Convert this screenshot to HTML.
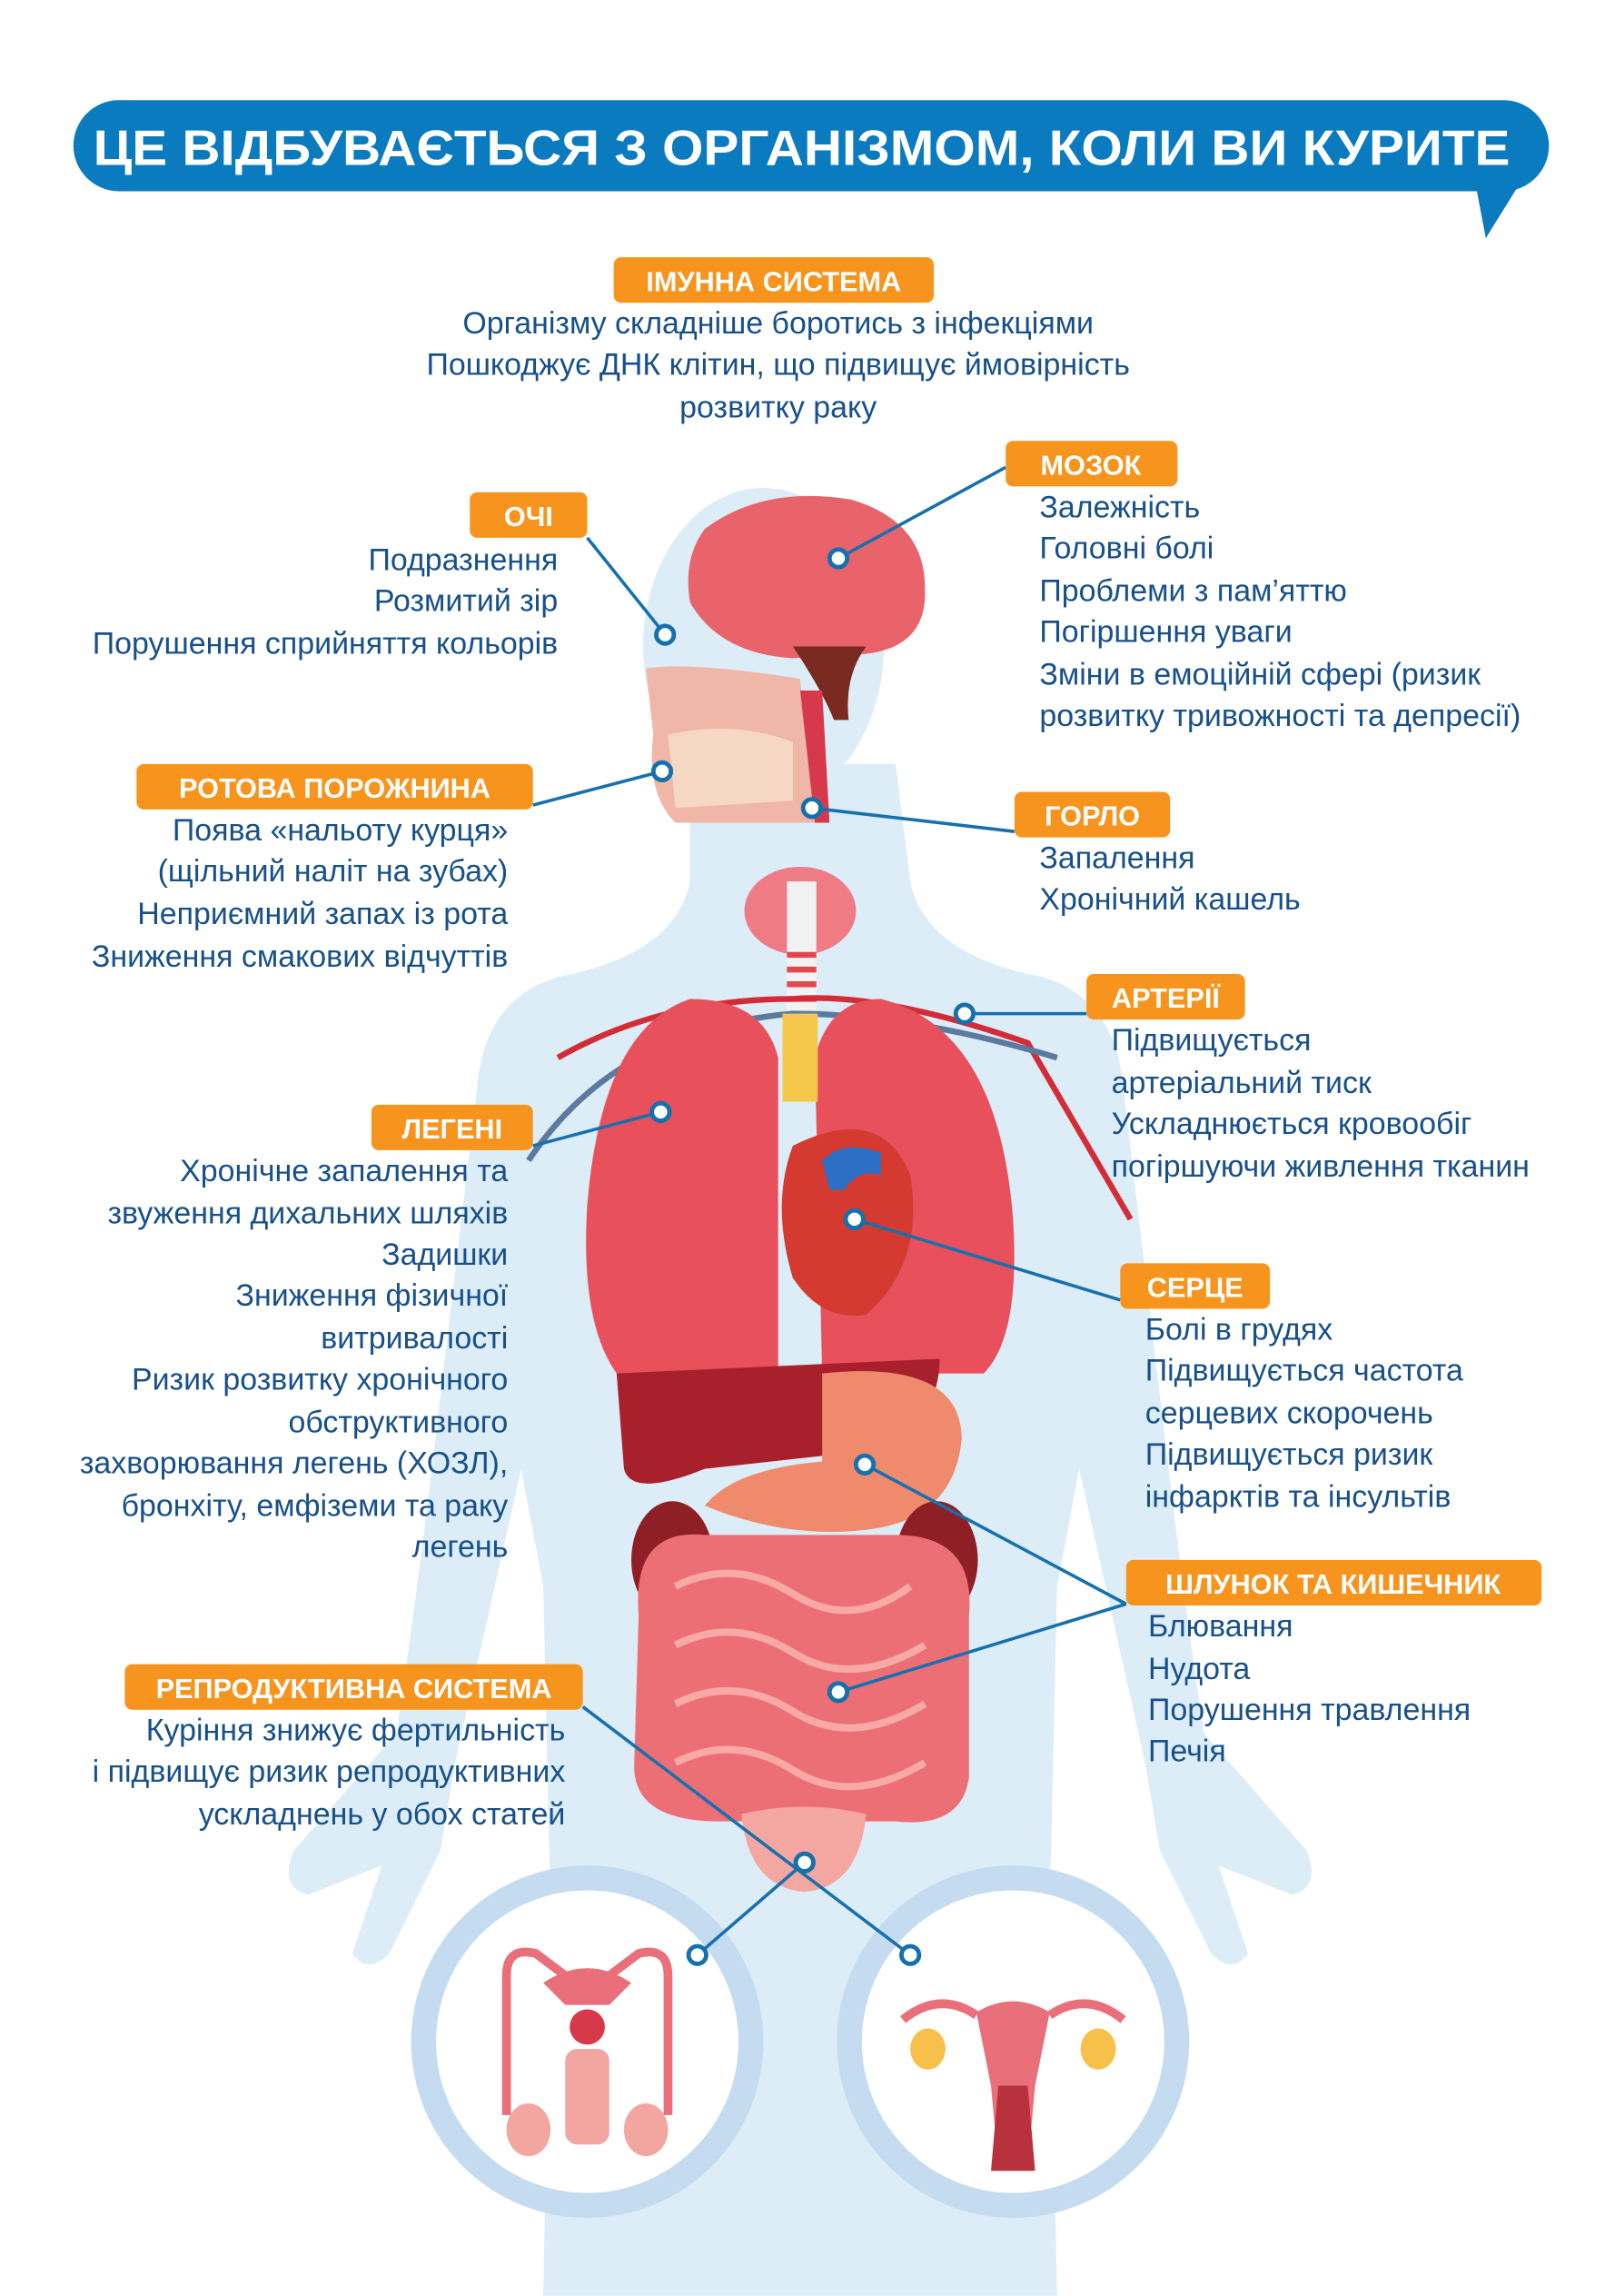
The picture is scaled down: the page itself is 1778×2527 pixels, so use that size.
<!DOCTYPE html>
<html><head><meta charset="utf-8"><style>
html,body{margin:0;padding:0;background:#fff;}
svg{display:block;}
text{font-family:"Liberation Sans","DejaVu Sans",sans-serif;}
.t{fill:#17508a;font-size:21px;}
.l{fill:#fff;font-size:19px;font-weight:bold;}
.ln{stroke:#1670ad;stroke-width:2.2;fill:none;}
.dot{fill:#fff;stroke:#1670ad;stroke-width:3;}
</style></head><body>
<svg width="1778" height="2527" viewBox="0 0 1100 1563" xmlns="http://www.w3.org/2000/svg">
<rect width="1100" height="1563" fill="#fff"/>
<rect x="50" y="68" width="1005" height="62" rx="31" fill="#0a7bbf"/>
<polygon points="1005,125 1035,125 1012,162" fill="#0a7bbf"/>
<text x="546" y="112" text-anchor="middle" fill="#fff" font-size="34" font-weight="bold" textLength="965" lengthAdjust="spacingAndGlyphs">ЦЕ ВІДБУВАЄТЬСЯ З ОРГАНІЗМОМ, КОЛИ ВИ КУРИТЕ</text>

<g fill="#dcedf7">
<ellipse cx="520" cy="440" rx="82" ry="108"/>
<path d="M470,520 L470,600 Q460,650 380,665 Q330,680 325,740 L300,950 Q285,1080 270,1180 L200,1260 Q190,1285 210,1290 L260,1270 L240,1330 Q250,1345 265,1330 L300,1260 L310,1200 L355,1000 L370,1080 L375,1300 L370,1563 L720,1563 L715,1300 L720,1080 L735,1000 L780,1200 L790,1260 L825,1330 Q840,1345 850,1330 L830,1270 L880,1290 Q900,1285 890,1260 L820,1180 Q805,1080 790,950 L765,740 Q760,680 710,665 Q630,650 620,600 L610,520 Z"/>
</g>
<circle cx="400" cy="1390" r="120" fill="#c5dcf0"/>
<circle cx="400" cy="1390" r="103" fill="#fff"/>
<circle cx="690" cy="1390" r="120" fill="#c5dcf0"/>
<circle cx="690" cy="1390" r="103" fill="#fff"/>
<g fill="none" stroke="#e9707a" stroke-width="6">
<path d="M345,1440 L345,1345 Q345,1325 365,1330 L385,1345"/>
<path d="M455,1440 L455,1345 Q455,1325 435,1330 L415,1345"/>
</g>
<path d="M370,1350 Q400,1330 430,1350 L415,1365 L385,1365 Z" fill="#e9707a"/>
<circle cx="400" cy="1380" r="12" fill="#d63a4a"/>
<rect x="385" y="1395" width="30" height="65" rx="8" fill="#f3a6a0"/>
<ellipse cx="360" cy="1450" rx="15" ry="18" fill="#f3a6a0"/>
<ellipse cx="440" cy="1450" rx="15" ry="18" fill="#f3a6a0"/>
<path d="M665,1370 Q690,1355 715,1370 L705,1420 L700,1475 L680,1475 L675,1420 Z" fill="#e9707a"/>
<path d="M665,1372 Q640,1355 615,1375 M715,1372 Q740,1355 765,1375" stroke="#e9707a" stroke-width="6" fill="none"/>
<ellipse cx="632" cy="1395" rx="12" ry="14" fill="#f7c04a"/>
<ellipse cx="748" cy="1395" rx="12" ry="14" fill="#f7c04a"/>
<path d="M680,1420 L700,1420 L705,1478 L675,1478 Z" fill="#b8323e"/>

<path d="M480,360 Q520,330 580,340 Q630,355 630,400 Q632,440 590,445 L540,448 Q490,445 470,410 Q465,380 480,360 Z" fill="#e9636b"/>
<path d="M540,440 Q560,470 568,490 L578,490 Q575,460 590,440 Z" fill="#7a2a20"/>
<path d="M440,455 Q470,450 545,462 L555,560 L460,560 Q440,540 445,500 Z" fill="#f0b7a8"/>
<path d="M455,500 Q500,490 540,505 L540,545 L460,550 Z" fill="#f5d7c4"/>
<path d="M545,470 L555,560 L565,560 L560,470 Z" fill="#d63a4a"/>
<ellipse cx="545" cy="620" rx="38" ry="30" fill="#ef7b87"/>
<rect x="536" y="600" width="20" height="120" fill="#f2f2f2"/>
<g stroke="#e0474f" stroke-width="4"><line x1="536" y1="650" x2="556" y2="650"/><line x1="536" y1="660" x2="556" y2="660"/><line x1="536" y1="670" x2="556" y2="670"/><line x1="536" y1="680" x2="556" y2="680"/></g>
<g fill="none" stroke-width="4">
<path d="M380,720 Q450,680 540,680 Q600,675 700,710 L770,830" stroke="#d32c37"/>
<path d="M360,790 Q420,700 540,690 Q620,690 720,720" stroke="#5a7aa0"/>
</g>
<path d="M470,680 Q410,700 400,820 Q395,900 420,935 L530,935 L530,720 Q520,680 470,680 Z" fill="#e8505c"/>
<path d="M600,680 Q680,700 690,830 Q695,910 670,935 L560,935 L555,720 Q565,680 600,680 Z" fill="#e8505c"/>
<rect x="533" y="690" width="24" height="60" fill="#f5c84c"/>
<path d="M540,780 Q600,750 620,800 Q630,860 590,895 Q560,900 540,870 Q525,820 540,780 Z" fill="#d43a2f"/>
<path d="M560,790 Q575,775 600,785 L600,800 Q585,795 575,810 L565,810 Z" fill="#2d6fc4"/>
<path d="M420,935 L640,925 Q640,980 570,990 L480,1000 Q430,1020 425,1000 Z" fill="#a8202c"/>
<path d="M560,935 Q655,925 655,980 Q650,1030 600,1040 Q540,1050 480,1025 Q500,1000 560,995 Z" fill="#f08a6c"/>
<ellipse cx="458" cy="1062" rx="28" ry="40" fill="#8e1f25"/>
<ellipse cx="638" cy="1062" rx="28" ry="40" fill="#8e1f25"/>
<path d="M435,1100 Q430,1040 480,1045 L610,1045 Q665,1045 660,1100 L660,1210 Q655,1245 610,1240 L490,1240 Q430,1240 432,1200 Z" fill="#ec6f75"/>
<g fill="none" stroke="#f7a9a5" stroke-width="5">
<path d="M460,1080 Q500,1060 540,1085 Q580,1110 620,1080"/>
<path d="M460,1120 Q500,1100 540,1125 Q580,1150 630,1120"/>
<path d="M460,1160 Q500,1140 540,1165 Q580,1190 630,1160"/>
<path d="M460,1200 Q500,1180 540,1205 Q580,1230 630,1200"/>
</g>
<path d="M505,1235 Q548,1225 590,1235 Q585,1285 548,1288 Q510,1285 505,1235 Z" fill="#f4a6a0"/>

<g class="ln">
<line x1="400" y1="366" x2="453" y2="432"/>
<line x1="685" y1="318" x2="571" y2="380"/>
<line x1="363" y1="548" x2="451" y2="525"/>
<line x1="691" y1="566" x2="553" y2="550"/>
<line x1="740" y1="690" x2="657" y2="690"/>
<line x1="363" y1="780" x2="450" y2="757"/>
<line x1="763" y1="885" x2="582" y2="830"/>
<line x1="767" y1="1092" x2="589" y2="997"/>
<line x1="767" y1="1092" x2="571" y2="1152"/>
<line x1="397" y1="1162" x2="620" y2="1331"/>
<line x1="548" y1="1268" x2="475" y2="1331"/>
</g>
<g class="dot">
<circle cx="453" cy="432" r="6"/><circle cx="571" cy="380" r="6"/><circle cx="451" cy="525" r="6"/>
<circle cx="553" cy="550" r="6"/><circle cx="657" cy="690" r="6"/><circle cx="450" cy="757" r="6"/>
<circle cx="582" cy="830" r="6"/><circle cx="589" cy="997" r="6"/><circle cx="571" cy="1152" r="6"/>
<circle cx="548" cy="1268" r="6"/><circle cx="475" cy="1331" r="6"/><circle cx="620" cy="1331" r="6"/>
</g>

<g fill="#f7941d">
<rect x="418" y="175" width="218" height="31" rx="5"/>
<rect x="685" y="300" width="117" height="31" rx="5"/>
<rect x="320" y="335" width="80" height="31" rx="5"/>
<rect x="93" y="520" width="270" height="31" rx="5"/>
<rect x="691" y="539" width="106" height="31" rx="5"/>
<rect x="740" y="663" width="108" height="31" rx="5"/>
<rect x="253" y="752" width="110" height="31" rx="5"/>
<rect x="763" y="860" width="102" height="31" rx="5"/>
<rect x="767" y="1062" width="283" height="31" rx="5"/>
<rect x="85" y="1133" width="312" height="31" rx="5"/>
</g>
<g class="l" text-anchor="middle">
<text x="527" y="198">ІМУННА СИСТЕМА</text>
<text x="743" y="323">МОЗОК</text>
<text x="360" y="358">ОЧІ</text>
<text x="228" y="543">РОТОВА ПОРОЖНИНА</text>
<text x="744" y="562">ГОРЛО</text>
<text x="794" y="686">АРТЕРІЇ</text>
<text x="308" y="775">ЛЕГЕНІ</text>
<text x="814" y="883">СЕРЦЕ</text>
<text x="908" y="1085">ШЛУНОК ТА КИШЕЧНИК</text>
<text x="241" y="1156">РЕПРОДУКТИВНА СИСТЕМА</text>
</g>

<g class="t" text-anchor="middle">
<text x="530" y="227">Організму складніше боротись з інфекціями</text>
<text x="530" y="255">Пошкоджує ДНК клітин, що підвищує ймовірність</text>
<text x="530" y="284">розвитку раку</text>
</g>
<g class="t">
<text x="708" y="352">Залежність</text>
<text x="708" y="380">Головні болі</text>
<text x="708" y="409">Проблеми з пам’яттю</text>
<text x="708" y="437">Погіршення уваги</text>
<text x="708" y="466">Зміни в емоційній сфері (ризик</text>
<text x="708" y="494">розвитку тривожності та депресії)</text>
<text x="708" y="591">Запалення</text>
<text x="708" y="619">Хронічний кашель</text>
<text x="757" y="715">Підвищується</text>
<text x="757" y="744">артеріальний тиск</text>
<text x="757" y="772">Ускладнюється кровообіг</text>
<text x="757" y="801">погіршуючи живлення тканин</text>
<text x="780" y="912">Болі в грудях</text>
<text x="780" y="940">Підвищується частота</text>
<text x="780" y="969">серцевих скорочень</text>
<text x="780" y="997">Підвищується ризик</text>
<text x="780" y="1026">інфарктів та інсультів</text>
<text x="782" y="1114">Блювання</text>
<text x="782" y="1143">Нудота</text>
<text x="782" y="1171">Порушення травлення</text>
<text x="782" y="1199">Печія</text>
</g>
<g class="t" text-anchor="end">
<text x="380" y="388">Подразнення</text>
<text x="380" y="416">Розмитий зір</text>
<text x="380" y="445">Порушення сприйняття кольорів</text>
<text x="346" y="572">Поява «нальоту курця»</text>
<text x="346" y="600">(щільний наліт на зубах)</text>
<text x="346" y="629">Неприємний запах із рота</text>
<text x="346" y="658">Зниження смакових відчуттів</text>
<text x="346" y="804">Хронічне запалення та</text>
<text x="346" y="833">звуження дихальних шляхів</text>
<text x="346" y="861">Задишки</text>
<text x="346" y="889">Зниження фізичної</text>
<text x="346" y="918">витривалості</text>
<text x="346" y="946">Ризик розвитку хронічного</text>
<text x="346" y="975">обструктивного</text>
<text x="346" y="1003">захворювання легень (ХОЗЛ),</text>
<text x="346" y="1032">бронхіту, емфіземи та раку</text>
<text x="346" y="1060">легень</text>
<text x="385" y="1185">Куріння знижує фертильність</text>
<text x="385" y="1213">і підвищує ризик репродуктивних</text>
<text x="385" y="1242">ускладнень у обох статей</text>
</g>
</svg>
</body></html>
